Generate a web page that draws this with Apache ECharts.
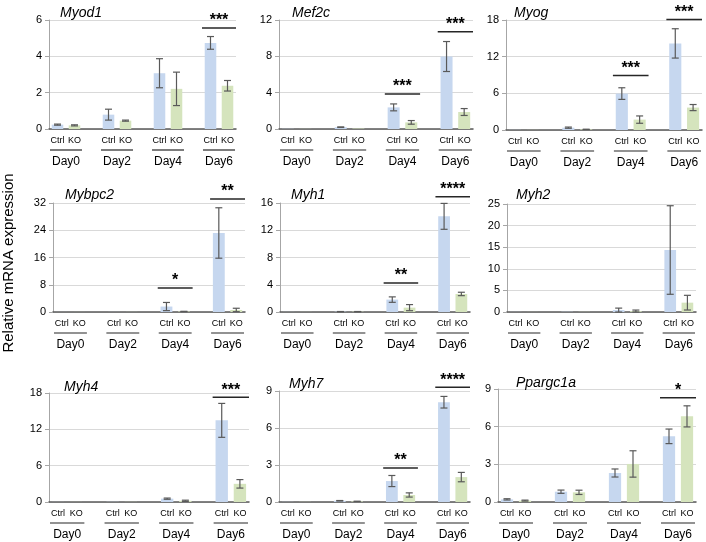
<!DOCTYPE html>
<html>
<head>
<meta charset="utf-8">
<script src="https://cdn.jsdelivr.net/npm/echarts@6/dist/echarts.min.js"></script>
<style>
  html, body { margin: 0; padding: 0; background: #fff; }
  #chart { width: 706px; height: 542px; }
</style>
</head>
<body>
<div id="chart"></div>
<script>
const days = ["Day0", "Day2", "Day4", "Day6"];
const groups = ["Ctrl", "KO"];
const genes = ["Myod1", "Mef2c", "Myog", "Mybpc2", "Myh1", "Myh2", "Myh4", "Myh7", "Ppargc1a"];

// mean / error per gene, per day
const ctrlMean = [
  [0.24, 0.79, 3.07, 4.74],
  [0.02, 0.2, 2.38, 7.98],
  [0.02, 0.38, 5.96, 14.17],
  [0.01, 0.02, 1.6, 23.2],
  [0.01, 0.05, 1.82, 14.04],
  [0.02, 0.05, 0.45, 14.35],
  [0.01, 0.03, 0.55, 13.48],
  [0.01, 0.1, 1.7, 8.09],
  [0.21, 0.82, 2.31, 5.23]
];
const ctrlErr = [
  [0.03, 0.3, 0.8, 0.35],
  [0, 0.03, 0.38, 1.65],
  [0, 0.1, 0.95, 2.4],
  [0, 0, 1.2, 7.4],
  [0, 0.02, 0.4, 1.9],
  [0, 0, 0.45, 10.25],
  [0, 0, 0.1, 2.8],
  [0, 0.02, 0.45, 0.47],
  [0.05, 0.13, 0.32, 0.58]
];
const koMean = [
  [0.2, 0.46, 2.21, 2.38],
  [0.01, 0.05, 0.73, 1.87],
  [0.01, 0.1, 1.7, 3.67],
  [0.01, 0.02, 0.15, 0.6],
  [0.01, 0.05, 0.64, 2.65],
  [0.01, 0.03, 0.2, 2.16],
  [0.01, 0.02, 0.2, 3.0],
  [0.01, 0.05, 0.57, 2.02],
  [0.11, 0.77, 3.03, 6.82]
];
const koErr = [
  [0.03, 0.03, 0.92, 0.29],
  [0, 0, 0.2, 0.38],
  [0, 0.02, 0.6, 0.5],
  [0, 0, 0.05, 0.5],
  [0, 0.02, 0.45, 0.25],
  [0, 0, 0.25, 1.7],
  [0, 0, 0.1, 0.7],
  [0, 0.01, 0.17, 0.38],
  [0.04, 0.17, 1.05, 0.84]
];
const yMax = [6, 12, 18, 32, 16, 25, 18, 9, 9];
const yStep = [2, 4, 6, 8, 4, 5, 6, 3, 3];
// significance: [day index, bracket height, stars]
const sigs = [
  [[3, 5.56, "***"]],
  [[2, 3.85, "***"], [3, 10.7, "***"]],
  [[2, 8.9, "***"], [3, 18.1, "***"]],
  [[2, 7.05, "*"], [3, 33.2, "**"]],
  [[2, 4.26, "**"], [3, 16.9, "****"]],
  [],
  [[3, 17.3, "***"]],
  [[2, 2.76, "**"], [3, 9.3, "****"]],
  [[3, 8.3, "*"]]
];
const yTitle = "Relative mRNA expression";

// panel boxes [left, top, width, height] and gene title positions
const boxes = [
  [49, 20, 187, 109], [279, 20, 194, 109], [506, 20, 196, 110],
  [53, 203, 192, 109], [280, 203, 190, 109], [507, 204, 189, 108],
  [49, 393, 200, 109], [279, 391, 191, 111], [498, 389, 198, 113]
];
const titlePos = [
  [55, 1], [287, 1], [509, 1],
  [60, 183], [286, 183], [511, 183],
  [59, 375], [284, 372], [511, 371]
];

const font = '"Liberation Sans", Arial, sans-serif';
const ctrlColor = "#c6d7ef";
const koColor = "#d5e4bd";
const errColor = "#595959";

// 11 slots: Ctrl, KO, gap, Ctrl, KO, gap ...
const cats = [];
days.forEach((d, i) => {
  groups.forEach(g => cats.push(g));
  if (i < days.length - 1) cats.push("");
});

const grid = [], xAxis = [], yAxis = [], title = [], series = [];

genes.forEach((gene, p) => {
  const b = boxes[p];
  grid.push({ left: b[0], top: b[1], width: b[2], height: b[3] });
  title.push({
    text: gene, left: titlePos[p][0], top: titlePos[p][1],
    textStyle: { fontFamily: font, fontSize: 14, fontStyle: "italic", fontWeight: "normal", color: "#000" }
  });
  xAxis.push({
    type: "category", gridIndex: p, data: cats,
    axisLine: { lineStyle: { color: "#595959", width: 1.5 } },
    axisTick: { show: false },
    axisLabel: { interval: 0, margin: 7, fontFamily: font, fontSize: 9, color: "#000" }
  });
  yAxis.push({
    type: "value", gridIndex: p, min: 0, max: yMax[p], interval: yStep[p],
    axisLine: { show: true, lineStyle: { color: "#a6a6a6" } },
    axisTick: { show: true, length: 4, lineStyle: { color: "#a6a6a6" } },
    axisLabel: { margin: 7, fontFamily: font, fontSize: 11, color: "#000" },
    splitLine: { lineStyle: { color: "#d9d9d9" } }
  });

  series.push({
    type: "bar", xAxisIndex: p, yAxisIndex: p, barWidth: "68%", barGap: "-100%",
    itemStyle: { color: ctrlColor },
    data: cats.map((c, i) => (i % 3 === 0 ? ctrlMean[p][i / 3] : "-"))
  });
  series.push({
    type: "bar", xAxisIndex: p, yAxisIndex: p, barWidth: "68%", barGap: "-100%",
    itemStyle: { color: koColor },
    data: cats.map((c, i) => (i % 3 === 1 ? koMean[p][(i - 1) / 3] : "-"))
  });

  const errData = [];
  days.forEach((d, k) => {
    errData.push([3 * k, ctrlMean[p][k], ctrlErr[p][k]]);
    errData.push([3 * k + 1, koMean[p][k], koErr[p][k]]);
  });
  series.push({
    type: "custom", xAxisIndex: p, yAxisIndex: p, clip: false, z: 5,
    data: errData,
    renderItem(params, api) {
      const x = api.value(0), m = api.value(1), e = api.value(2);
      if (!e) return null;
      const top = api.coord([x, m + e]);
      const bot = api.coord([x, Math.max(m - e, 0)]);
      const c = 3.5;
      const st = { stroke: errColor, lineWidth: 1.2 };
      return {
        type: "group", children: [
          { type: "line", shape: { x1: top[0], y1: top[1], x2: bot[0], y2: bot[1] }, style: st },
          { type: "line", shape: { x1: top[0] - c, y1: top[1], x2: top[0] + c, y2: top[1] }, style: st },
          { type: "line", shape: { x1: bot[0] - c, y1: bot[1], x2: bot[0] + c, y2: bot[1] }, style: st }
        ]
      };
    }
  });

  if (sigs[p].length) {
    series.push({
      type: "custom", xAxisIndex: p, yAxisIndex: p, clip: false, z: 6,
      data: sigs[p].map(s => [3 * s[0], s[1]]),
      renderItem(params, api) {
        const x = api.value(0), y = api.value(1);
        const w = api.size([1, 0])[0];
        const a = api.coord([x, y]), c = api.coord([x + 1, y]);
        const x1 = a[0] - w / 2, x2 = c[0] + w / 2;
        return {
          type: "group", children: [
            { type: "line", shape: { x1: x1, y1: a[1], x2: x2, y2: a[1] }, style: { stroke: "#262626", lineWidth: 1.5 } },
            { type: "text", x: (x1 + x2) / 2, y: a[1] + 1,
              style: { text: sigs[p][params.dataIndex][2], align: "center", verticalAlign: "bottom",
                       font: "bold 16px " + font, fill: "#000" } }
          ]
        };
      }
    });
  }

  series.push({
    type: "custom", xAxisIndex: p, yAxisIndex: p, clip: false, silent: true,
    data: days.map((d, k) => [3 * k, 0]),
    renderItem(params, api) {
      const x = api.value(0);
      const w = api.size([1, 0])[0];
      const a = api.coord([x, 0]), c = api.coord([x + 1, 0]);
      const x1 = a[0] - w / 2 + 1, x2 = c[0] + w / 2 - 1;
      return {
        type: "group", children: [
          { type: "line", shape: { x1: x1, y1: a[1] + 21, x2: x2, y2: a[1] + 21 }, style: { stroke: "#262626", lineWidth: 1.2 } },
          { type: "text", x: (x1 + x2) / 2, y: a[1] + 33,
            style: { text: days[params.dataIndex], align: "center", verticalAlign: "middle",
                     font: "12px " + font, fill: "#000" } }
        ]
      };
    }
  });
});

const chart = echarts.init(document.getElementById("chart"));
chart.setOption({
  animation: false,
  backgroundColor: "#fff",
  title: title,
  grid: grid,
  xAxis: xAxis,
  yAxis: yAxis,
  series: series,
  graphic: [{
    type: "text", x: 9, y: 263, rotation: Math.PI / 2,
    style: { text: yTitle, align: "center", verticalAlign: "middle", font: "15px " + font, fill: "#000" }
  }]
});
</script>
</body>
</html>
